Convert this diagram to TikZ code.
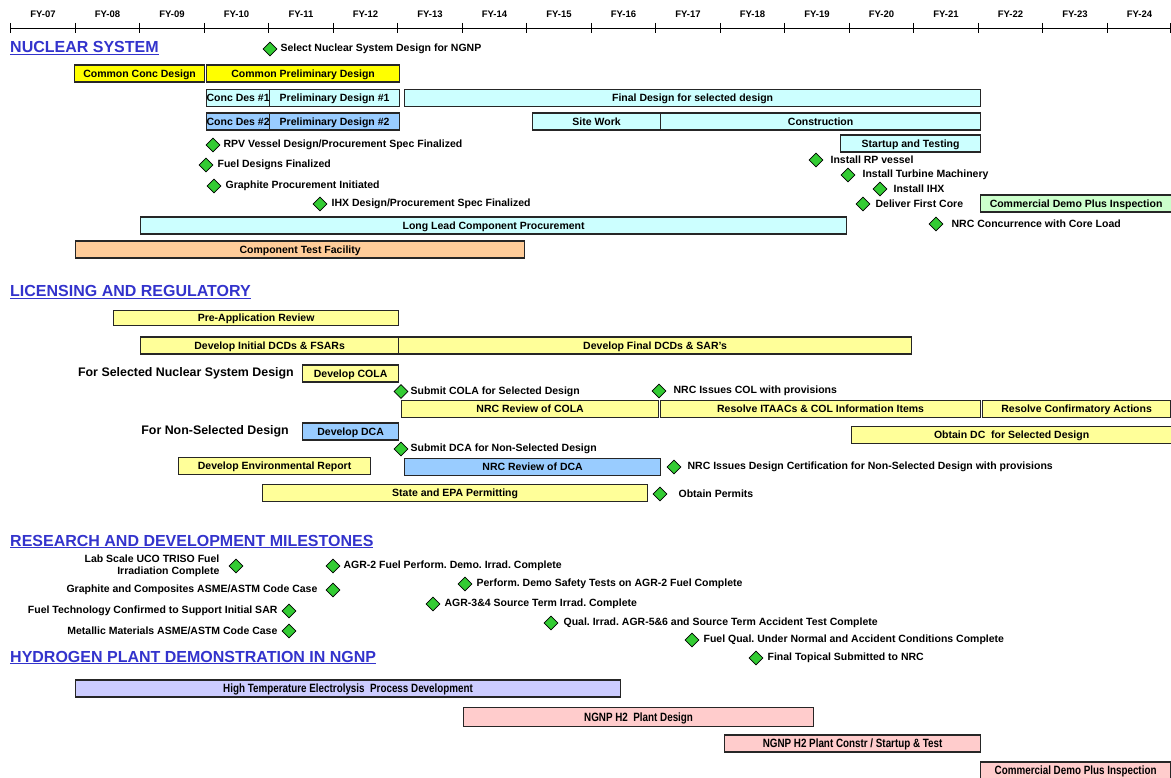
\documentclass[tikz,border=0pt]{standalone}
\usepackage{fontspec}
\setmainfont{Liberation Sans}
\newfontfamily\narrowfont[FakeStretch=0.82]{Liberation Sans}
\usepackage{tikz}
\usetikzlibrary{positioning,shapes.geometric}
\usepackage{xcolor}
\frenchspacing

\definecolor{headblue}{HTML}{3333CC}
\definecolor{msgreen}{HTML}{33CC33}
\definecolor{baryellow}{HTML}{FFFF00}
\definecolor{paleyellow}{HTML}{FFFF99}
\definecolor{palecyan}{HTML}{CCFFFF}
\definecolor{paleblue}{HTML}{99CCFF}
\definecolor{palegreen}{HTML}{CCFFCC}
\definecolor{paleorange}{HTML}{FFCC99}
\definecolor{lavender}{HTML}{CCCCFF}
\definecolor{palepink}{HTML}{FFCCCC}

\tikzset{
  gbar/.style={draw=black!85, line width=1.2pt, minimum height=17pt, inner sep=0pt,
    text height=7.6pt, text depth=0pt,
    anchor=west, font=\bfseries\fontsize{10.5}{12}\selectfont},
  h2bar/.style={gbar, text height=8.6pt, font=\narrowfont\bfseries\fontsize{12}{14}\selectfont},
  mstone/.style={diamond, draw=black, fill=msgreen, line width=0.8pt,
    minimum width=14pt, minimum height=14pt, inner sep=0pt},
  mlabel/.style={inner sep=1pt, font=\bfseries\fontsize{10.5}{12}\selectfont},
  sidelabel/.style={inner sep=1pt, font=\bfseries\fontsize{12.4}{14}\selectfont},
  head/.style={anchor=base west, inner sep=0pt, text=headblue,
    font=\bfseries\fontsize{16}{19}\selectfont},
  fylabel/.style={font=\bfseries\fontsize{9.5}{11}\selectfont}
}

\begin{document}
\begin{tikzpicture}[x=1pt, y=-1pt]
\useasboundingbox (0,0) rectangle (1171,778);

% Fiscal year axis
\draw[line width=0.8pt] (10,28) -- (1171,28);
\draw[line width=0.8pt] (10.5,23) -- (10.5,33) (75,23) -- (75,33) (139.5,23) -- (139.5,33)
  (204,23) -- (204,33) (268.5,23) -- (268.5,33) (333,23) -- (333,33) (397.5,23) -- (397.5,33)
  (462,23) -- (462,33) (526.5,23) -- (526.5,33) (591,23) -- (591,33) (655.5,23) -- (655.5,33)
  (720,23) -- (720,33) (784.5,23) -- (784.5,33) (849,23) -- (849,33) (913.5,23) -- (913.5,33)
  (978,23) -- (978,33) (1042.5,23) -- (1042.5,33) (1107,23) -- (1107,33) (1170.5,23) -- (1170.5,33);
\node[fylabel] (fy07) at (43,14) {FY-07};
\node[fylabel] (fy08) at (107.5,14) {FY-08};
\node[fylabel] (fy09) at (172,14) {FY-09};
\node[fylabel] (fy10) at (236.5,14) {FY-10};
\node[fylabel] (fy11) at (301,14) {FY-11};
\node[fylabel] (fy12) at (365.5,14) {FY-12};
\node[fylabel] (fy13) at (430,14) {FY-13};
\node[fylabel] (fy14) at (494.5,14) {FY-14};
\node[fylabel] (fy15) at (559,14) {FY-15};
\node[fylabel] (fy16) at (623.5,14) {FY-16};
\node[fylabel] (fy17) at (688,14) {FY-17};
\node[fylabel] (fy18) at (752.5,14) {FY-18};
\node[fylabel] (fy19) at (817,14) {FY-19};
\node[fylabel] (fy20) at (881.5,14) {FY-20};
\node[fylabel] (fy21) at (946,14) {FY-21};
\node[fylabel] (fy22) at (1010.5,14) {FY-22};
\node[fylabel] (fy23) at (1075,14) {FY-23};
\node[fylabel] (fy24) at (1139.5,14) {FY-24};

% Nuclear system
\node[head] (hnuc) at (10,53) {\underline{NUCLEAR SYSTEM}};
\node[mstone] (msel) at (270,49) {};
\node[mlabel, right=2pt of msel] (lsel) {Select Nuclear System Design for NGNP};
\node[gbar, fill=baryellow, minimum width=130pt] (ccd) at (74,73.5) {Common Conc Design};
\node[gbar, fill=baryellow, minimum width=193pt] (cpd) at (206,73.5) {Common Preliminary Design};
\node[gbar, fill=palecyan, minimum width=63pt] (cd1) at (206,98) {Conc Des \#1};
\node[gbar, fill=palecyan, minimum width=130pt] (pd1) at (269,98) {Preliminary Design \#1};
\node[gbar, fill=palecyan, minimum width=576pt] (fd) at (404,98) {Final Design for selected design};
\node[gbar, fill=paleblue, minimum width=63pt] (cd2) at (206,121.5) {Conc Des \#2};
\node[gbar, fill=paleblue, minimum width=130pt] (pd2) at (269,121.5) {Preliminary Design \#2};
\node[gbar, fill=palecyan, minimum width=128pt] (sw) at (532,121.5) {Site Work};
\node[gbar, fill=palecyan, minimum width=320pt] (con) at (660,121.5) {Construction};
\node[gbar, fill=palecyan, minimum width=140pt] (st) at (840,143.5) {Startup and Testing};
\node[mstone] (mrpv) at (213,145) {};
\node[mlabel, right=2pt of mrpv] (lrpv) {RPV Vessel Design/Procurement Spec Finalized};
\node[mstone] (mfuel) at (206,165) {};
\node[mlabel, right=3pt of mfuel] (lfuel) {Fuel Designs Finalized};
\node[mstone] (mgra) at (214,186) {};
\node[mlabel, right=3pt of mgra] (lgra) {Graphite Procurement Initiated};
\node[mstone] (mihx) at (320,204) {};
\node[mlabel, right=3pt of mihx] (lihx) {IHX Design/Procurement Spec Finalized};
\node[mstone] (mrp) at (816,160) {};
\node[mlabel, right=6pt of mrp] (lrp) {Install RP vessel};
\node[mstone] (mtur) at (848,175) {};
\node[mlabel, right=6pt of mtur] (ltur) {Install Turbine Machinery};
\node[mstone] (mihx2) at (880,189) {};
\node[mlabel, right=5pt of mihx2] (lihx2) {Install IHX};
\node[mstone] (mcore) at (863,204) {};
\node[mlabel, right=4pt of mcore] (lcore) {Deliver First Core};
\node[gbar, fill=palegreen, minimum width=191pt] (cdp1) at (980,203.5) {Commercial Demo Plus Inspection};
\node[gbar, fill=palecyan, minimum width=706pt] (llc) at (140,225.5) {Long Lead Component Procurement};
\node[mstone] (mnrc) at (936,224) {};
\node[mlabel, right=7pt of mnrc] (lnrc) {NRC Concurrence with Core Load};
\node[gbar, fill=paleorange, minimum width=449pt] (ctf) at (75,249.5) {Component Test Facility};

% Licensing and regulatory
\node[head] (hlic) at (10,297) {\underline{LICENSING AND REGULATORY}};
\node[gbar, fill=paleyellow, minimum width=285pt, minimum height=15pt] (par) at (113,318) {Pre-Application Review};
\node[gbar, fill=paleyellow, minimum width=258pt] (dinit) at (140,345.5) {Develop Initial DCDs \& FSARs};
\node[gbar, fill=paleyellow, minimum width=513pt] (dfin) at (398,345.5) {Develop Final DCDs \& SAR's};
\node[gbar, fill=paleyellow, minimum width=96pt] (cola) at (302,373.5) {Develop COLA};
\node[sidelabel, left=7pt of cola] (lsel2) {For Selected Nuclear System Design};
\node[mstone] (mscola) at (401,391.5) {};
\node[mlabel, right=1pt of mscola] (lscola) {Submit COLA for Selected Design};
\node[mstone] (mcol) at (659,391) {};
\node[mlabel, right=6pt of mcol] (lcol) {NRC Issues COL with provisions};
\node[gbar, fill=paleyellow, minimum width=257pt] (rcola) at (401,409) {NRC Review of COLA};
\node[gbar, fill=paleyellow, minimum width=320pt] (itaac) at (660,409) {Resolve ITAACs \& COL Information Items};
\node[gbar, fill=paleyellow, minimum width=188pt] (rca) at (982,409) {Resolve Confirmatory Actions};
\node[gbar, fill=paleblue, minimum width=96pt] (dca) at (302,431.5) {Develop DCA};
\node[sidelabel, left=12pt of dca] (lnon) {For Non-Selected Design};
\node[gbar, fill=paleyellow, minimum width=320pt] (odc) at (851,435) {Obtain DC\ \ for Selected Design};
\node[mstone] (msdca) at (401,449) {};
\node[mlabel, right=1pt of msdca] (lsdca) {Submit DCA for Non-Selected Design};
\node[gbar, fill=paleyellow, minimum width=192pt] (der) at (178,466) {Develop Environmental Report};
\node[gbar, fill=paleblue, minimum width=256pt] (rdca) at (404,467) {NRC Review of DCA};
\node[mstone] (mdc) at (674,467) {};
\node[mlabel, right=5pt of mdc] (ldc) {NRC Issues Design Certification for Non-Selected Design with provisions};
\node[gbar, fill=paleyellow, minimum width=385pt] (sepa) at (262,493) {State and EPA Permitting};
\node[mstone] (mperm) at (660,494) {};
\node[mlabel, right=10pt of mperm] (lperm) {Obtain Permits};

% Research and development milestones
\node[head] (hrd) at (10,546) {\underline{RESEARCH AND DEVELOPMENT MILESTONES}};
\node[mstone] (mlab) at (236,566) {};
\node[mlabel, left=8pt of mlab, align=right, font=\bfseries\fontsize{10.5}{11.5}\selectfont] (llab) {Lab Scale UCO TRISO Fuel\\Irradiation Complete};
\node[mstone] (magr2) at (333,566) {};
\node[mlabel, right=2pt of magr2] (lagr2) {AGR-2 Fuel Perform. Demo. Irrad. Complete};
\node[mstone] (mgc) at (333,590) {};
\node[mlabel, left=7pt of mgc] (lgc) {Graphite and Composites ASME/ASTM Code Case};
\node[mstone] (msaf) at (465,584) {};
\node[mlabel, right=3pt of msaf] (lsaf) {Perform. Demo Safety Tests on AGR-2 Fuel Complete};
\node[mstone] (mft) at (289,611) {};
\node[mlabel, left=3pt of mft] (lft) {Fuel Technology Confirmed to Support Initial SAR};
\node[mstone] (magr34) at (433,604) {};
\node[mlabel, right=3pt of magr34] (lagr34) {AGR-3\&4 Source Term Irrad. Complete};
\node[mstone] (mmm) at (289,631) {};
\node[mlabel, left=3pt of mmm] (lmm) {Metallic Materials ASME/ASTM Code Case};
\node[mstone] (magr56) at (551,623) {};
\node[mlabel, right=4pt of magr56] (lagr56) {Qual. Irrad. AGR-5\&6 and Source Term Accident Test Complete};
\node[mstone] (mfq) at (692,640) {};
\node[mlabel, right=3pt of mfq] (lfq) {Fuel Qual. Under Normal and Accident Conditions Complete};
\node[mstone] (mtop) at (756,658) {};
\node[mlabel, right=3pt of mtop] (ltop) {Final Topical Submitted to NRC};

% Hydrogen plant demonstration
\node[head] (hh2) at (10,662) {\underline{HYDROGEN PLANT DEMONSTRATION IN NGNP}};
\node[h2bar, fill=lavender, minimum width=545pt] (hte) at (75,688.5) {High Temperature Electrolysis\ \ Process Development};
\node[h2bar, fill=palepink, minimum width=350pt, minimum height=19pt] (h2d) at (463,717) {NGNP H2\ \ Plant Design};
\node[h2bar, fill=palepink, minimum width=256pt] (h2c) at (724,743.5) {NGNP H2 Plant Constr / Startup \& Test};
\node[h2bar, fill=palepink, minimum width=190pt] (cdp2) at (980,770.5) {Commercial Demo Plus Inspection};
\end{tikzpicture}
\end{document}
